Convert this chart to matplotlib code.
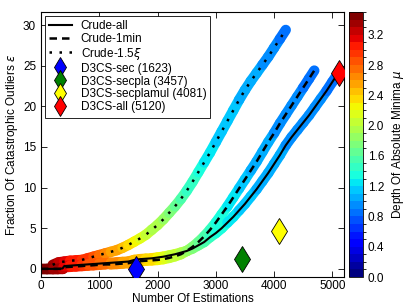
import numpy as np
import matplotlib
matplotlib.use("Agg")
import matplotlib.pyplot as plt
from matplotlib.collections import LineCollection
from matplotlib.colors import ListedColormap, BoundaryNorm
import matplotlib.cm as cm

plt.rcParams['font.family'] = ['Liberation Sans', 'DejaVu Sans']
plt.rcParams['font.size'] = 8.5

# === DATA ===
# Crude-all
solid_x = [0, 100, 200, 300, 370, 400, 500, 600, 700, 800, 900, 1000, 1100, 1200,
           1300, 1400, 1500, 1600, 1700, 1800, 1900, 2000, 2100, 2200, 2300, 2400,
           2500, 2600, 2700, 2800, 2900, 3000, 3100, 3200, 3300, 3400, 3500, 3600,
           3700, 3800, 3900, 4000, 4100, 4200, 4300, 4400, 4500, 4600, 4700, 4800,
           4900, 5000, 5120]
solid_y = [0, 0, 0, 0, 0.05, 0.35, 0.4, 0.45, 0.5, 0.55, 0.6, 0.65, 0.7, 0.75,
           0.8, 0.85, 0.9, 1.1, 1.2, 1.25, 1.3, 1.4, 1.5, 1.65, 1.8, 2.0,
           2.2, 2.5, 2.9, 3.3, 3.9, 4.4, 5.0, 5.7, 6.4, 7.2, 8.0, 8.9,
           9.8, 10.8, 11.8, 12.9, 14.0, 15.2, 16.2, 17.1, 18.0, 18.9, 19.9, 20.9,
           21.9, 23.0, 24.3]
solid_mu = [3.45, 3.45, 3.4, 3.35, 3.3, 3.2, 3.1, 3.05, 3.0, 2.9, 2.85, 2.8, 2.75, 2.7,
            2.65, 2.6, 2.55, 2.5, 2.45, 2.4, 2.35, 2.3, 2.2, 2.15, 2.05, 2.0,
            1.9, 1.8, 1.7, 1.6, 1.5, 1.45, 1.35, 1.3, 1.25, 1.2, 1.15, 1.1,
            1.1, 1.05, 1.05, 1.0, 1.0, 1.0, 0.95, 0.95, 0.95, 0.95, 0.9, 0.9,
            0.9, 0.85, 0.8]

# Crude-1min
dash_x = [0, 100, 200, 300, 370, 400, 500, 600, 700, 800, 900, 1000, 1100, 1200,
          1300, 1400, 1500, 1600, 1700, 1800, 1900, 2000, 2100, 2200, 2300, 2400,
          2500, 2600, 2700, 2800, 2900, 3000, 3100, 3200, 3300, 3400, 3500, 3600,
          3700, 3800, 3900, 4000, 4100, 4200, 4300, 4400, 4500, 4600, 4690]
dash_y = [0, 0, 0, 0, 0, 0.2, 0.25, 0.3, 0.35, 0.4, 0.45, 0.5, 0.55, 0.55,
          0.6, 0.65, 0.7, 0.85, 0.95, 1.0, 1.05, 1.1, 1.2, 1.35, 1.55, 1.8,
          2.2, 2.7, 3.3, 4.0, 4.8, 5.7, 6.7, 7.7, 8.8, 9.9, 11.0, 12.1,
          13.2, 14.4, 15.6, 16.7, 17.9, 19.0, 20.1, 21.2, 22.3, 23.4, 24.4]
dash_mu = [3.45, 3.45, 3.4, 3.35, 3.3, 3.2, 3.1, 3.05, 3.0, 2.9, 2.85, 2.8, 2.75, 2.7,
           2.65, 2.6, 2.55, 2.5, 2.45, 2.4, 2.35, 2.3, 2.2, 2.15, 2.05, 2.0,
           1.9, 1.8, 1.7, 1.6, 1.5, 1.45, 1.35, 1.3, 1.25, 1.2, 1.15, 1.1,
           1.05, 1.05, 1.0, 1.0, 0.95, 0.95, 0.95, 0.9, 0.9, 0.85, 0.8]

# Crude-1.5xi
dot_x = [200, 300, 400, 500, 600, 700, 800, 900, 1000, 1100, 1200, 1300, 1400,
         1500, 1600, 1700, 1800, 1900, 2000, 2100, 2200, 2300, 2400, 2500, 2600,
         2700, 2800, 2900, 3000, 3100, 3200, 3300, 3400, 3500, 3600, 3700, 3800,
         3900, 4000, 4100, 4200]
dot_y = [0.5, 0.8, 0.9, 1.0, 1.05, 1.1, 1.3, 1.5, 1.7, 1.9, 2.1, 2.3, 2.6,
         2.95, 3.35, 3.75, 4.2, 4.8, 5.4, 6.1, 6.9, 7.7, 8.6, 9.6, 10.7,
         11.9, 13.1, 14.3, 15.6, 16.9, 18.2, 19.5, 20.8, 22.0, 23.1, 24.1, 25.1,
         26.1, 27.2, 28.3, 29.4]
dot_mu = [3.35, 3.3, 3.2, 3.1, 3.05, 3.0, 2.95, 2.85, 2.8, 2.7, 2.65, 2.55, 2.45,
          2.4, 2.3, 2.2, 2.1, 2.0, 1.95, 1.9, 1.8, 1.7, 1.6, 1.5, 1.45,
          1.4, 1.3, 1.25, 1.2, 1.15, 1.15, 1.1, 1.1, 1.05, 1.05, 1.0, 1.0,
          0.95, 0.95, 0.9, 0.85]

# D3CS points
d3cs_labels = ['D3CS-sec (1623)', 'D3CS-secpla (3457)',
               'D3CS-secplamul (4081)', 'D3CS-all (5120)']
d3cs_x = [1623, 3457, 4081, 5120]
d3cs_y = [0.0, 1.25, 4.6, 24.1]
d3cs_colors = ['blue', 'green', 'yellow', 'red']

# discrete jet colormap, steps of 0.1
bounds = np.arange(0, 3.51, 0.1)
cmap = ListedColormap(plt.get_cmap('jet')(np.linspace(0, 1, len(bounds) - 1)))
norm = BoundaryNorm(bounds, cmap.N)

fig = plt.figure(figsize=(4.07, 3.07), dpi=100)
ax = fig.add_axes([0.1007, 0.0977, 0.7445, 0.863])
cax = fig.add_axes([0.8575, 0.0977, 0.0344, 0.863])


def band(x, y, mu):
    pts = np.column_stack([x, y])
    segs = np.stack([pts[:-1], pts[1:]], axis=1)
    mids = 0.5 * (np.asarray(mu[:-1]) + np.asarray(mu[1:]))
    lc = LineCollection(segs, cmap=cmap, norm=norm, linewidths=7.5,
                        capstyle='round', joinstyle='round', zorder=1)
    lc.set_array(mids)
    ax.add_collection(lc)


band(dot_x, dot_y, dot_mu)
band(dash_x, dash_y, dash_mu)
band(solid_x, solid_y, solid_mu)

ax.plot(solid_x, solid_y, 'k-', lw=1.5, zorder=3, label='Crude-all')
ax.plot(dash_x, dash_y, 'k', ls=(0, (3, 2)), lw=1.8, zorder=3, label='Crude-1min')
ax.plot(dot_x, dot_y, 'k', ls=(0, (1, 3)), lw=1.8, zorder=3, label=r'Crude-1.5$\xi$')

for xx, yy, c, lab in zip(d3cs_x, d3cs_y, d3cs_colors, d3cs_labels):
    ax.plot([xx], [yy], 'd', color=c, mec='k', mew=0.6, ms=13, ls='none',
            zorder=4, label=lab)

ax.set_xlim(0, 5200)
ax.set_ylim(-1, 31.6)
ax.set_xticks([0, 1000, 2000, 3000, 4000, 5000])
ax.set_yticks([0, 5, 10, 15, 20, 25, 30])
ax.tick_params(direction='in', top=True, right=True, length=4, width=0.6, labelsize=8.5)
ax.tick_params(axis='x', pad=2)
ax.set_xlabel('Number Of Estimations', fontsize=8.5, labelpad=1)
ax.set_ylabel(r'Fraction Of Catastrophic Outliers $\epsilon$', fontsize=8.5, labelpad=2)

leg = ax.legend(loc='upper left', fontsize=8.5, fancybox=False, framealpha=1,
                edgecolor='k', handlelength=2.0, markerscale=0.8,
                borderpad=0.35, labelspacing=0.08, handletextpad=0.7,
                borderaxespad=0.3)
leg.get_frame().set_linewidth(0.6)

sm = cm.ScalarMappable(norm=norm, cmap=cmap)
cb = fig.colorbar(sm, cax=cax, ticks=np.arange(0, 3.3, 0.4), format='%.1f')
cb.ax.tick_params(length=0, labelsize=8.5)
cb.outline.set_linewidth(0.6)
cb.set_label(r'Depth Of Absolute Minima $\mu$', fontsize=8.5)

fig.savefig('out.png', dpi=100)
